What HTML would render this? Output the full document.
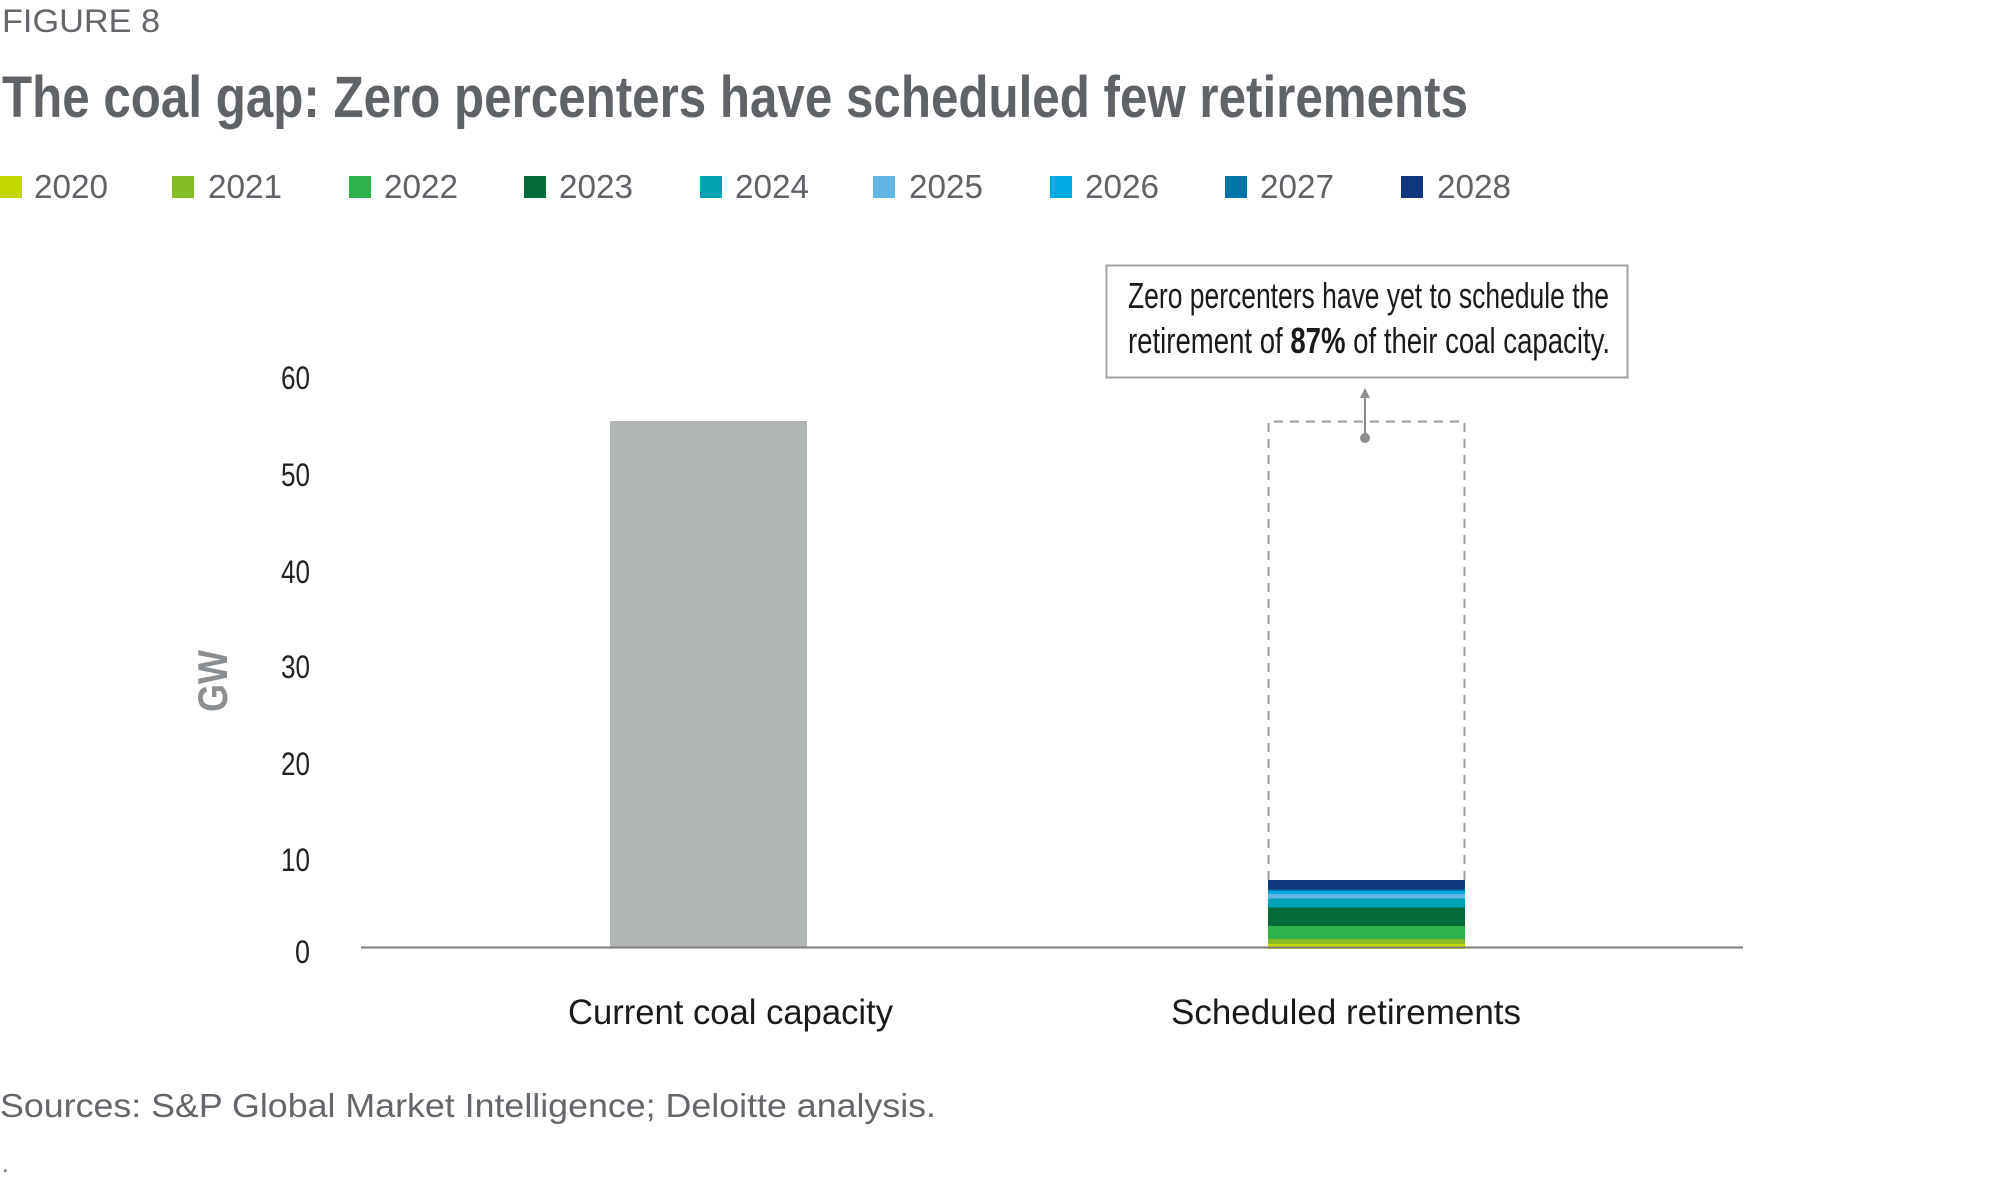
<!DOCTYPE html>
<html><head><meta charset="utf-8"><style>
html,body{margin:0;padding:0;background:#fff;}
svg{display:block;}
text{font-family:"Liberation Sans",sans-serif;}
</style></head><body>
<svg width="2000" height="1186" viewBox="0 0 2000 1186" xmlns="http://www.w3.org/2000/svg">
<text x="2" y="32" font-size="32" fill="#63666a" textLength="158" lengthAdjust="spacingAndGlyphs">FIGURE 8</text>
<text x="2" y="117" font-size="58" font-weight="bold" fill="#5f6266" textLength="1466" lengthAdjust="spacingAndGlyphs">The coal gap: Zero percenters have scheduled few retirements</text>
<g font-size="33" fill="#5f6266">
<rect x="0" y="176" width="22" height="22" fill="#c4d600"/><text x="34" y="198" textLength="74" lengthAdjust="spacingAndGlyphs">2020</text>
<rect x="172" y="176" width="22" height="22" fill="#86bc25"/><text x="208" y="198" textLength="74" lengthAdjust="spacingAndGlyphs">2021</text>
<rect x="349" y="176" width="22" height="22" fill="#2db34a"/><text x="384" y="198" textLength="74" lengthAdjust="spacingAndGlyphs">2022</text>
<rect x="524" y="176" width="22" height="22" fill="#046a38"/><text x="559" y="198" textLength="74" lengthAdjust="spacingAndGlyphs">2023</text>
<rect x="700" y="176" width="22" height="22" fill="#00a3b4"/><text x="735" y="198" textLength="74" lengthAdjust="spacingAndGlyphs">2024</text>
<rect x="873" y="176" width="22" height="22" fill="#62b5e5"/><text x="909" y="198" textLength="74" lengthAdjust="spacingAndGlyphs">2025</text>
<rect x="1050" y="176" width="22" height="22" fill="#00abe3"/><text x="1085" y="198" textLength="74" lengthAdjust="spacingAndGlyphs">2026</text>
<rect x="1225" y="176" width="22" height="22" fill="#0076a8"/><text x="1260" y="198" textLength="74" lengthAdjust="spacingAndGlyphs">2027</text>
<rect x="1401" y="176" width="22" height="22" fill="#12357f"/><text x="1437" y="198" textLength="74" lengthAdjust="spacingAndGlyphs">2028</text>
</g>
<g font-size="32" fill="#222" text-anchor="end">
<text x="310" y="389" textLength="29" lengthAdjust="spacingAndGlyphs">60</text>
<text x="310" y="486" textLength="29" lengthAdjust="spacingAndGlyphs">50</text>
<text x="310" y="583" textLength="29" lengthAdjust="spacingAndGlyphs">40</text>
<text x="310" y="678" textLength="29" lengthAdjust="spacingAndGlyphs">30</text>
<text x="310" y="775" textLength="29" lengthAdjust="spacingAndGlyphs">20</text>
<text x="310" y="871" textLength="29" lengthAdjust="spacingAndGlyphs">10</text>
<text x="310" y="963" textLength="15" lengthAdjust="spacingAndGlyphs">0</text>
</g>
<text transform="translate(227,681) rotate(-90)" font-size="42" font-weight="bold" fill="#8c8f92" text-anchor="middle" textLength="62" lengthAdjust="spacingAndGlyphs">GW</text>
<rect x="610" y="421" width="197" height="526" fill="#b2b5b6"/>
<path d="M1268.5,880 V421.5 H1464.5 V880" fill="none" stroke="#9a9c9e" stroke-width="2" stroke-dasharray="9,7"/>
<rect x="1268" y="880" width="197" height="9.5" fill="#12357f"/>
<rect x="1268" y="889.5" width="197" height="1.5" fill="#0076a8"/>
<rect x="1268" y="891" width="197" height="3" fill="#00abe3"/>
<rect x="1268" y="894" width="197" height="4.5" fill="#62b5e5"/>
<rect x="1268" y="898.5" width="197" height="9" fill="#00a3b4"/>
<rect x="1268" y="907.5" width="197" height="18.5" fill="#046a38"/>
<rect x="1268" y="926" width="197" height="13" fill="#2db34a"/>
<rect x="1268" y="939" width="197" height="5" fill="#86bc25"/>
<rect x="1268" y="944" width="197" height="5" fill="#c4d600"/>
<line x1="361" y1="947.5" x2="1743" y2="947.5" stroke="#7a7c7e" stroke-width="2"/>
<line x1="1365" y1="437" x2="1365" y2="396" stroke="#8a8c8e" stroke-width="2"/>
<polygon points="1360,398 1370,398 1365,388" fill="#8a8c8e"/>
<circle cx="1365" cy="438" r="5" fill="#8a8c8e"/>
<rect x="1106.5" y="265.5" width="521" height="112" fill="#fff" stroke="#a0a2a4" stroke-width="2"/>
<g font-size="36" fill="#1a1a1a">
<text x="1128" y="308" textLength="481" lengthAdjust="spacingAndGlyphs">Zero percenters have yet to schedule the</text>
<text x="1128" y="353" textLength="482" lengthAdjust="spacingAndGlyphs">retirement of <tspan font-weight="bold">87%</tspan> of their coal capacity.</text>
</g>
<g font-size="35" fill="#1a1a1a">
<text x="568" y="1024" textLength="325" lengthAdjust="spacingAndGlyphs">Current coal capacity</text>
<text x="1171" y="1024" textLength="350" lengthAdjust="spacingAndGlyphs">Scheduled retirements</text>
</g>
<text x="0" y="1117" font-size="33" fill="#63666a" textLength="936" lengthAdjust="spacingAndGlyphs">Sources: S&amp;P Global Market Intelligence; Deloitte analysis.</text>
<text x="2" y="1172" font-size="24" fill="#63666a">.</text>
</svg>
</body></html>
